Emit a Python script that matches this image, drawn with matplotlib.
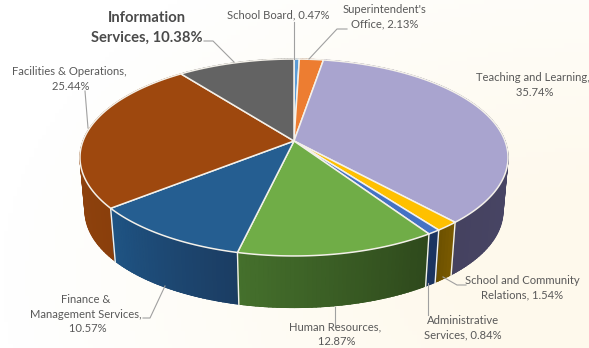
import numpy as np
import matplotlib.pyplot as plt
from matplotlib.collections import PolyCollection
from matplotlib.colors import to_rgb

plt.rcParams['font.family'] = ['Lato', 'DejaVu Sans']

# budget shares, clockwise from 12 o'clock
names = ['School Board', "Superintendent's\nOffice", 'Teaching and Learning,\n',
         'School and Community\nRelations', 'Administrative\nServices',
         'Human Resources,\n', 'Finance &\nManagement Services,\n',
         'Facilities & Operations,\n', 'Information\nServices']
values = [0.47, 2.13, 35.74, 1.54, 0.84, 12.87, 10.57, 25.44, 10.38]

top_colors = ['#5B9BD5', '#ED7D31', '#A9A4CF', '#FFC000', '#4472C4',
              '#70AD47', '#255E91', '#9E480E', '#636363']
wall_start = ['#2E5E8C', '#8C4A1C', '#514E70', '#7A5A00', '#1B3460',
              '#2E491C', '#1B3D63', '#8A3F0C', '#3A3A3A']
wall_end = ['#2E5E8C', '#8C4A1C', '#454260', '#6E5200', '#1B3460',
            '#45702C', '#1F5484', '#9A4A10', '#3A3A3A']

# label centre and leader line in pixels
label_pos = [(278, 15), (385, 17), (533, 85), (522, 288), (463, 328),
             (335, 334), (86, 314), (69, 79), (147, 28)]
leaders = [[(294, 22), (294, 59)],
           [(347, 29), (337, 29), (309, 59)],
           None,
           [(466, 285), (457, 285), (443, 277)],
           [(428, 315), (428, 283)],
           [(335, 327), (335, 307)],
           [(143, 318), (150, 318), (165, 286)],
           [(85, 91), (88, 128)],
           [(204, 41), (213, 41), (234, 62)]]

# projection of the tilted disc
cx, cy = 294, 141
rx, ry = 211, 95.7
persp = 0.1675
drop = 55
bottom_scale = 0.975


def project(theta, scale=1.0, dy=0.0):
    u, v = np.sin(theta), np.cos(theta)
    w = 1 + persp * v
    return cx + scale * rx * u / w, cy + dy - scale * ry * v / w


fig = plt.figure(figsize=(5.89, 3.48), dpi=100)
ax = fig.add_axes([0, 0, 1, 1])
ax.set_xlim(0, 589)
ax.set_ylim(348, 0)
ax.axis('off')

# faint warm tint towards the lower right
yy, xx = np.mgrid[0:1:80j, 0:1:140j]
tint = np.clip(1.25 - np.hypot((xx - 1) / 0.8, (yy - 0.8) / 0.9), 0, 1)[..., None]
bg = np.array([1, 1, 1]) * (1 - tint) + np.array(to_rgb('#FEF9EC')) * tint
ax.imshow(bg, extent=(0, 589, 348, 0), aspect='auto', zorder=0)

edges = np.radians(np.cumsum([0] + values) * 360 / sum(values))

# side wall: solid base per slice, then short shaded facets
facets, facet_colors, facet_depth = [], [], []
for i in range(len(values)):
    steps = max(int(np.degrees(edges[i + 1] - edges[i])), 2)
    th = np.linspace(edges[i], edges[i + 1], steps + 1)
    c0, c1 = np.array(to_rgb(wall_start[i])), np.array(to_rgb(wall_end[i]))
    xt, yt = project(th)
    xb, yb = project(th, bottom_scale, drop)
    ax.fill(np.r_[xt, xb[::-1]], np.r_[yt, yb[::-1]], color=(c0 + c1) / 2, lw=0, zorder=1)
    for j in range(steps):
        facets.append([(xt[j], yt[j]), (xt[j + 1], yt[j + 1]),
                       (xb[j + 1] - 0.3, yb[j + 1] - 0.6), (xb[j] + 0.3, yb[j] - 0.6)])
        facet_colors.append(c0 + (c1 - c0) * j / max(steps - 1, 1))
        facet_depth.append(np.cos(th[j]))
order = np.argsort(facet_depth)[::-1]
ax.add_collection(PolyCollection([facets[k] for k in order],
                                 facecolors=[facet_colors[k] for k in order],
                                 edgecolors=[facet_colors[k] for k in order],
                                 linewidths=0.8, zorder=2))

# white seams down the wall
for e in edges:
    if np.cos(e) < 0.2:
        xa, ya = project(e)
        xd, yd = project(e, bottom_scale, drop)
        ax.plot([xa, xd], [ya, yd], color='#F2F2EE', lw=1.0, zorder=3)

# top face
for i in range(len(values)):
    th = np.linspace(edges[i], edges[i + 1], 120)
    xs, ys = project(th)
    ax.fill(np.r_[cx, xs], np.r_[cy, ys], facecolor=top_colors[i],
            edgecolor='#F4F1EA', lw=1.1, joinstyle='round', zorder=4)

# labels and leader lines
for i, name in enumerate(names):
    text = f'{name}, {values[i]:.2f}%'.replace('\n,', '\n')
    bold = name == 'Information\nServices'
    ax.text(label_pos[i][0], label_pos[i][1], text, ha='center', va='center',
            fontsize=10.6 if bold else 8.1, fontweight='bold' if bold else 'normal',
            color='#4A4A4A' if bold else '#595959',
            linespacing=1.55 if bold else 1.38, zorder=6)
    if leaders[i]:
        ax.plot(*zip(*leaders[i]), color='#A0A0A0', lw=0.8, zorder=5)

fig.savefig('out.png', dpi=100)
